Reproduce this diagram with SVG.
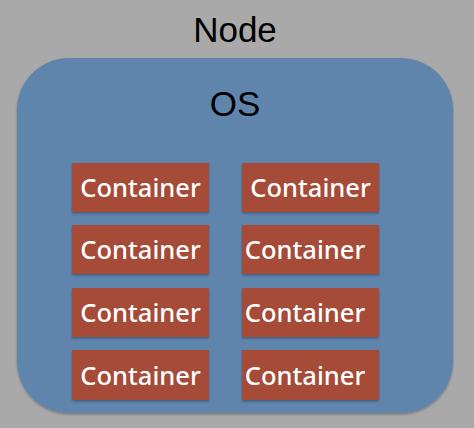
<svg xmlns="http://www.w3.org/2000/svg" width="474" height="428" viewBox="0 0 474 428">
<style>
.c{fill:#a54b38}
.t{font-family:"Noto Sans","Open Sans",sans-serif;font-size:25.5px;font-weight:500;fill:#ffffff}
.h{font-family:"Liberation Sans",Arial,sans-serif;font-size:35px;fill:#000000;text-anchor:middle}
</style>
<defs>
<filter id="sh" x="-10%" y="-10%" width="120%" height="130%">
<feDropShadow dx="0" dy="1.5" stdDeviation="1" flood-color="#000" flood-opacity="0.3"/>
</filter>
</defs>
<rect width="474" height="428" fill="#a8a9a8"/>
<g id="node">
<text class="h" x="235" y="42">Node</text>
</g>
<g id="os">
<rect x="17" y="58" width="436" height="355" rx="52" ry="52" fill="#5f85ad" filter="url(#sh)"/>
<text class="h" x="235" y="116">OS</text>
</g>
<g id="c1"><rect class="c" x="72" y="163" width="137" height="49" filter="url(#sh)"/><text class="t" x="140.5" y="197" text-anchor="middle">Container</text></g>
<g id="c2"><rect class="c" x="242" y="163" width="137" height="49" filter="url(#sh)"/><text class="t" x="310.5" y="197" text-anchor="middle">Container</text></g>
<g id="c3"><rect class="c" x="72" y="225" width="137" height="49" filter="url(#sh)"/><text class="t" x="140.5" y="259" text-anchor="middle">Container</text></g>
<g id="c4"><rect class="c" x="242" y="225" width="137" height="49" filter="url(#sh)"/><text class="t" x="305" y="259" text-anchor="middle">Container</text></g>
<g id="c5"><rect class="c" x="72" y="288" width="137" height="49" filter="url(#sh)"/><text class="t" x="140.5" y="322" text-anchor="middle">Container</text></g>
<g id="c6"><rect class="c" x="242" y="288" width="137" height="49" filter="url(#sh)"/><text class="t" x="305" y="322" text-anchor="middle">Container</text></g>
<g id="c7"><rect class="c" x="72" y="350" width="137" height="50" filter="url(#sh)"/><text class="t" x="140.5" y="385" text-anchor="middle">Container</text></g>
<g id="c8"><rect class="c" x="242" y="350" width="137" height="50" filter="url(#sh)"/><text class="t" x="305" y="385" text-anchor="middle">Container</text></g>
<g id="connectors"/>
</svg>
